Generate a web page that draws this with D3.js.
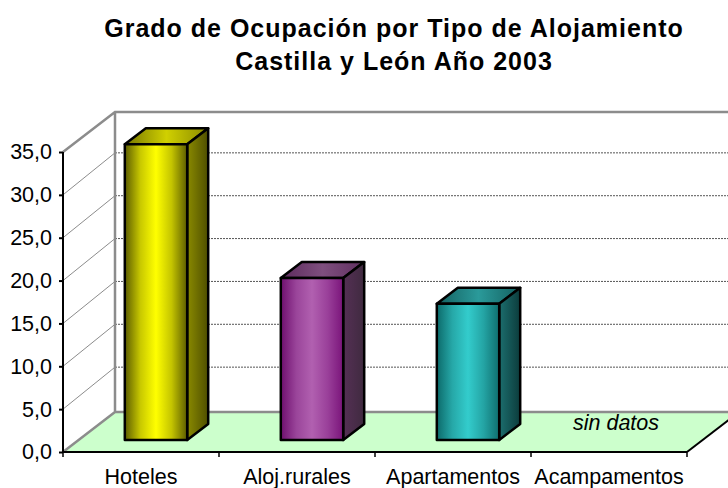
<!DOCTYPE html>
<html><head><meta charset="utf-8">
<script src="https://cdn.jsdelivr.net/npm/d3@7"></script>
<style>html,body{margin:0;padding:0;background:#fff}svg{display:block}text{font-family:"Liberation Sans",Arial,sans-serif;fill:#000}</style>
</head><body><div id="c"></div>
<script>
const titleLines = ["Grado de Ocupación por Tipo de Alojamiento", "Castilla y León Año 2003"];
const categories = ["Hoteles", "Aloj.rurales", "Apartamentos", "Acampamentos"];
const values = [34.5, 18.9, 15.9, null];
const yTicks = [0, 5, 10, 15, 20, 25, 30, 35];
const noDataLabel = "sin datos";
const faceColors = [
  ["#5c5c00", "#c8c800", "#ffff00", "#c4c400", "#5c5c00"],
  ["#6e0f6e", "#9a459a", "#b160b0", "#9a409a", "#7a147a"],
  ["#0c6a6a", "#26a8a8", "#33cccc", "#24a4a4", "#0f6e6e"]
];
const topColors = [
  ["#767600", "#d0d000", "#8a8a00"],
  ["#5c2b5c", "#7f4f7f", "#5f2f5f"],
  ["#146060", "#2a9a9a", "#146060"]
];
const sideColors = [
  ["#8a8a00", "#4f4f00"],
  ["#553055", "#3f2a3f"],
  ["#1c6e6e", "#0c3c3c"]
];

const W = 728, H = 488;
const depthX = 52, depthY = 40;
const barDX = 21, barDY = 16, floorLift = 12;
const x = d3.scaleBand().domain(categories).range([63, 687]);
const y = d3.scaleLinear().domain([0, 35]).range([452, 152]);
const barW = x.bandwidth() * 0.4;
const svg = d3.select("#c").append("svg").attr("width", W).attr("height", H);
const defs = svg.append("defs");
function grad(id, stops) {
  const g = defs.append("linearGradient").attr("id", id).attr("x1", 0).attr("x2", 1).attr("y1", 0).attr("y2", 0);
  stops.forEach((c, i) => g.append("stop").attr("offset", i / (stops.length - 1)).attr("stop-color", c));
}
values.forEach((v, i) => {
  if (v == null) return;
  grad("f" + i, faceColors[i]); grad("t" + i, topColors[i]); grad("s" + i, sideColors[i]);
});
const poly = pts => "M" + pts.map(p => p.join(",")).join("L") + "Z";
const x0 = x.range()[0], x1 = x.range()[1];
const y0 = y(0), yT = y(35);

// title
svg.selectAll(".title").data(titleLines).join("text").attr("class", "title")
  .attr("x", 394).attr("y", (d, i) => 37 + i * 33)
  .attr("text-anchor", "middle").attr("font-weight", "bold").attr("font-size", 25)
  .attr("letter-spacing", 1).text(d => d);

// floor
svg.append("path").attr("d", poly([[x0, y0], [x1, y0], [x1 + depthX, y0 - depthY], [x0 + depthX, y0 - depthY]]))
  .attr("fill", "#ccffcc");

// walls: side-wall lines and back-wall grid
const grid = svg.append("g");
yTicks.slice(1, -1).forEach(t => {
  grid.append("line").attr("x1", x0).attr("y1", y(t)).attr("x2", x0 + depthX).attr("y2", y(t) - depthY - 2)
    .attr("stroke", "#8c8c8c").attr("stroke-width", 1);
  grid.append("line").attr("x1", x0 + depthX).attr("x2", W).attr("y1", y(t) - depthY - 2).attr("y2", y(t) - depthY - 2)
    .attr("stroke", "#555").attr("stroke-width", 1).attr("stroke-dasharray", "2,1");
});
svg.append("path")
  .attr("d", `M${x0},${yT}L${x0 + depthX},${yT - depthY}L${W},${yT - depthY}M${x0 + depthX},${yT - depthY}L${x0 + depthX},${y0 - depthY}L${W},${y0 - depthY}M${x0 + depthX},${y0 - depthY}L${x0},${y0}`)
  .attr("fill", "none").attr("stroke", "#8c8c8c").attr("stroke-width", 2.5);

// floor right edge and axes
svg.append("line").attr("x1", x1).attr("y1", y0).attr("x2", x1 + depthX).attr("y2", y0 - depthY)
  .attr("stroke", "#000").attr("stroke-width", 2);
const axisY = d3.axisLeft(y).tickValues(yTicks).tickSize(4).tickPadding(7)
  .tickFormat(d => d3.format(".1f")(d).replace(".", ","));
const gy = svg.append("g").attr("transform", `translate(${x0},0)`).call(axisY);
gy.selectAll("text").attr("font-size", 21.5).attr("font-family", '"Liberation Sans",Arial,sans-serif').attr("fill", "#000");
gy.selectAll("line,path").attr("stroke", "#000").attr("stroke-width", 2);
gy.select("path").attr("d", `M0,${yT}V${y0}`);

const axisX = d3.axisBottom(x).tickSize(0).tickPadding(17);
const gx = svg.append("g").attr("transform", `translate(0,${y0})`).call(axisX);
gx.selectAll("text").attr("font-size", 21.5).attr("font-family", '"Liberation Sans",Arial,sans-serif').attr("fill", "#000");
gx.select("path").attr("d", `M${x0},0H${x1}`).attr("stroke", "#000").attr("stroke-width", 2);
gx.selectAll(".edge").data(d3.range(categories.length + 1)).join("line").attr("class", "edge")
  .attr("x1", i => x0 + i * x.step()).attr("x2", i => x0 + i * x.step()).attr("y1", 0).attr("y2", 5)
  .attr("stroke", "#000").attr("stroke-width", 1.5);

// bars
values.forEach((v, i) => {
  if (v == null) return;
  const l = x(categories[i]) + (x.bandwidth() - barW) / 2 + 15, r = l + barW;
  const b = y0 - floorLift, t = y(v) - floorLift;
  const g = svg.append("g").attr("stroke", "#000").attr("stroke-width", 2.5).attr("stroke-linejoin", "round");
  g.append("path").attr("d", poly([[l, t], [r, t], [r + barDX, t - barDY], [l + barDX, t - barDY]])).attr("fill", `url(#t${i})`);
  g.append("path").attr("d", poly([[r, t], [r + barDX, t - barDY], [r + barDX, b - barDY], [r, b]])).attr("fill", `url(#s${i})`);
  g.append("path").attr("d", poly([[l, t], [r, t], [r, b], [l, b]])).attr("fill", `url(#f${i})`);
});

// no-data note
const ndIndex = values.indexOf(null);
svg.append("text").attr("x", x(categories[ndIndex]) + x.bandwidth() / 2 + 7).attr("y", 430)
  .attr("text-anchor", "middle").attr("font-style", "italic").attr("font-size", 21.5).text(noDataLabel);
</script></body></html>
